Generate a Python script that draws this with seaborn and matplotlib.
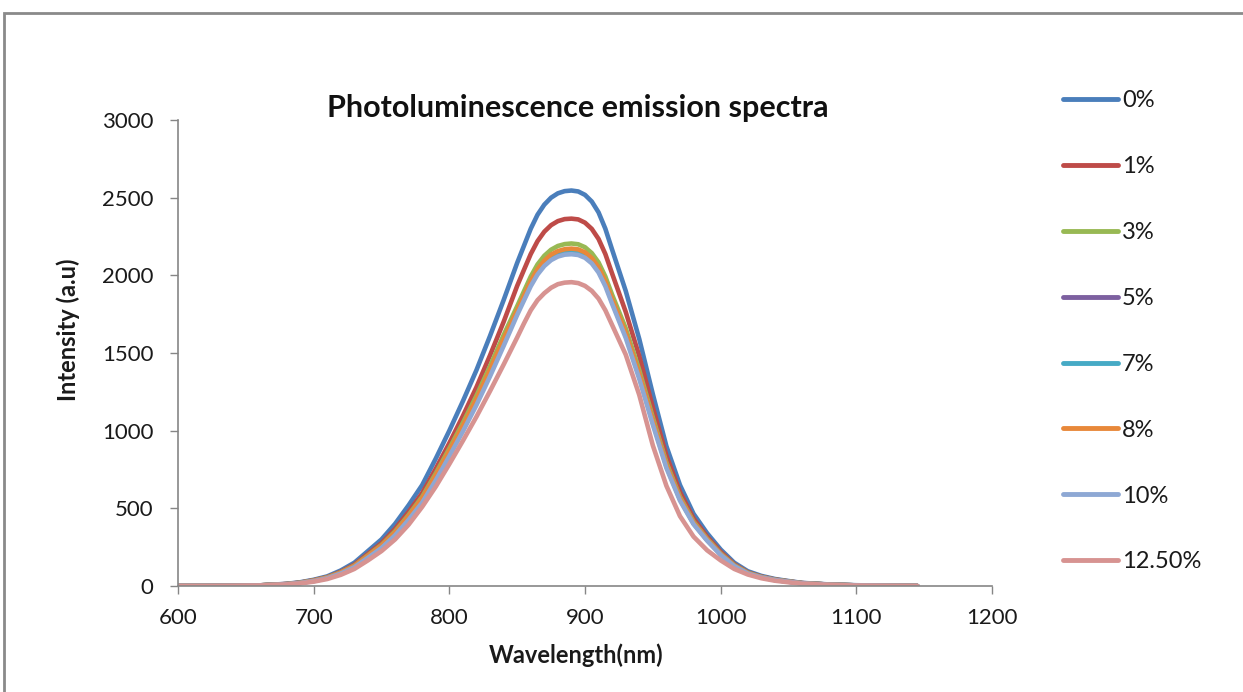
import matplotlib
matplotlib.use("Agg")
import matplotlib.pyplot as plt
import seaborn as sns
import pandas as pd
from matplotlib.patches import Rectangle

wavelength = [600, 620, 640, 660, 680,
              690, 700, 710, 720, 730, 740, 750, 760, 770, 780,
              790, 800, 810, 820, 830, 840,
              850, 855, 860, 865, 870, 875, 880, 885,
              890, 895, 900, 905, 910, 915, 920,
              930, 940, 950, 960, 970, 980,
              990, 1000, 1010, 1020, 1030, 1040, 1050, 1060,
              1080, 1100, 1120, 1145]

s0 = [0, 0, 1, 4, 14,
      24, 40, 62, 100, 150, 225, 300, 400, 520, 650,
      820, 1000, 1190, 1390, 1610, 1840,
      2080, 2190, 2300, 2390, 2455, 2500, 2528, 2542,
      2546, 2540, 2518, 2475, 2405, 2300, 2165,
      1900, 1590, 1235, 900, 650, 465,
      340, 235, 150, 95, 65, 45, 32, 20,
      10, 5, 2, 0]
s1 = [0, 0, 1, 4, 13,
      22, 37, 57, 92, 138, 207, 276, 368, 478, 598,
      755, 920, 1095, 1280, 1485, 1700,
      1932, 2035, 2137, 2220, 2281, 2323, 2349, 2362,
      2365, 2360, 2339, 2299, 2234, 2137, 2011,
      1765, 1480, 1150, 840, 605, 435,
      318, 220, 140, 88, 60, 42, 30, 19,
      9, 4, 2, 0]
s3 = [0, 0, 1, 4, 12,
      21, 35, 55, 88, 132, 198, 265, 352, 458, 575,
      725, 885, 1050, 1225, 1415, 1615,
      1801, 1897, 1992, 2070, 2126, 2165, 2189, 2201,
      2205, 2200, 2181, 2143, 2083, 1992, 1875,
      1660, 1390, 1085, 795, 575, 415,
      305, 210, 135, 85, 58, 40, 29, 18,
      9, 4, 2, 0]
s5 = [0, 0, 1, 4, 12,
      20, 34, 53, 85, 128, 192, 258, 342, 446, 560,
      706, 863, 1024, 1195, 1382, 1580,
      1768, 1862, 1955, 2032, 2087, 2125, 2149, 2161,
      2164, 2159, 2140, 2104, 2044, 1955, 1840,
      1625, 1358, 1060, 776, 562, 406,
      298, 205, 131, 82, 56, 39, 28, 18,
      9, 4, 2, 0]
s7 = [0, 0, 1, 4, 12,
      20, 33, 53, 84, 126, 190, 255, 338, 441, 554,
      699, 855, 1015, 1185, 1370, 1565,
      1758, 1851, 1944, 2020, 2074, 2113, 2136, 2148,
      2151, 2146, 2128, 2091, 2032, 1944, 1829,
      1614, 1349, 1052, 770, 558, 403,
      296, 204, 130, 82, 56, 39, 28, 18,
      9, 4, 2, 0]
s8 = [0, 0, 1, 4, 12,
      20, 34, 54, 86, 129, 194, 260, 345, 450, 565,
      712, 870, 1032, 1205, 1393, 1590,
      1774, 1868, 1962, 2039, 2094, 2133, 2156, 2168,
      2172, 2167, 2148, 2111, 2051, 1962, 1847,
      1632, 1365, 1065, 780, 565, 408,
      300, 206, 132, 83, 57, 39, 28, 18,
      9, 4, 2, 0]
s10 = [0, 0, 1, 3, 11,
       19, 31, 50, 80, 121, 182, 245, 326, 426, 537,
       680, 835, 995, 1165, 1350, 1545,
       1745, 1838, 1930, 2005, 2060, 2098, 2121, 2133,
       2136, 2131, 2113, 2077, 2018, 1930, 1816,
       1598, 1333, 1038, 760, 550, 398,
       292, 200, 128, 80, 55, 38, 27, 17,
       8, 4, 2, 0]
s125 = [0, 0, 1, 3, 10,
        17, 28, 45, 72, 110, 165, 225, 300, 395, 510,
        640, 785, 935, 1090, 1255, 1425,
        1600, 1690, 1775, 1840, 1885, 1920, 1943, 1953,
        1956, 1950, 1932, 1900, 1850, 1775, 1680,
        1490, 1230, 905, 645, 450, 318,
        230, 165, 110, 74, 50, 34, 24, 15,
        7, 3, 1, 0]

series_names = ["0%", "1%", "3%", "5%", "7%", "8%", "10%", "12.50%"]
series_values = [s0, s1, s3, s5, s7, s8, s10, s125]
colors = ["#4A7EBB", "#BE4B48", "#98B954", "#7D60A0", "#46AAC5",
          "#E8883A", "#8EA8D4", "#D79391"]

x_ticks = [600, 700, 800, 900, 1000, 1100, 1200]
y_ticks = [0, 500, 1000, 1500, 2000, 2500, 3000]

rows = []
for name, vals in zip(series_names, series_values):
    for w, v in zip(wavelength, vals):
        rows.append({"Wavelength": w, "Intensity": v, "Series": name})
df = pd.DataFrame(rows)

sns.set_style("white")
plt.rcParams['font.family'] = ['Lato', 'DejaVu Sans']

fig = plt.figure(figsize=(12.43, 6.92), dpi=100)
ax = fig.add_axes([178 / 1243, 1 - 586 / 692, (992 - 178) / 1243, (586 - 120) / 692])

sns.lineplot(data=df, x="Wavelength", y="Intensity", hue="Series",
             hue_order=series_names, palette=colors, linewidth=3.3,
             sort=False, ax=ax, legend=True)

ax.set_xlim(600, 1200)
ax.set_ylim(0, 3000)
ax.set_xticks(x_ticks)
ax.set_yticks(y_ticks)
ax.tick_params(axis='both', direction='out', length=5.5, width=1,
               color="#868686", labelsize=16, labelcolor="#1a1a1a",
               left=True, bottom=True)
ax.tick_params(axis='y', pad=12)
ax.tick_params(axis='x', pad=10)
for side in ["top", "right"]:
    ax.spines[side].set_visible(False)
for side in ["left", "bottom"]:
    ax.spines[side].set_color("#868686")
    ax.spines[side].set_linewidth(1.2)

ax.set_xlabel("")
ax.set_ylabel("")
fig.text(576 / 1243, 1 - 655 / 692, "Wavelength(nm)", ha="center", va="center",
         fontsize=17, fontweight="bold", color="#1a1a1a")
fig.text(68 / 1243, 1 - 330 / 692, "Intensity (a.u)", ha="center", va="center",
         rotation=90, fontsize=17, fontweight="bold", color="#1a1a1a")

fig.text(578 / 1243, 1 - 108 / 692, "Photoluminescence emission spectra",
         ha="center", va="center", fontsize=22, fontweight="bold", color="#111111")

handles, labels = ax.get_legend_handles_labels()
ax.get_legend().remove()
leg = fig.legend(handles, labels, loc="upper left",
                 bbox_to_anchor=(1054 / 1243, 1 - 81 / 692),
                 frameon=False, fontsize=17, labelspacing=1.9,
                 handlelength=2.3, handletextpad=0.17, borderaxespad=0)
for t in leg.get_texts():
    t.set_color("#1a1a1a")
for line in leg.get_lines():
    line.set_linewidth(3.5)

fig.patches.append(Rectangle((4 / 1243, -0.02), 1.05, 0.02 + 1 - 12.5 / 692,
                             transform=fig.transFigure, fill=False,
                             edgecolor="#8a8a8a", linewidth=2, figure=fig))

fig.savefig("out.png", dpi=100)
